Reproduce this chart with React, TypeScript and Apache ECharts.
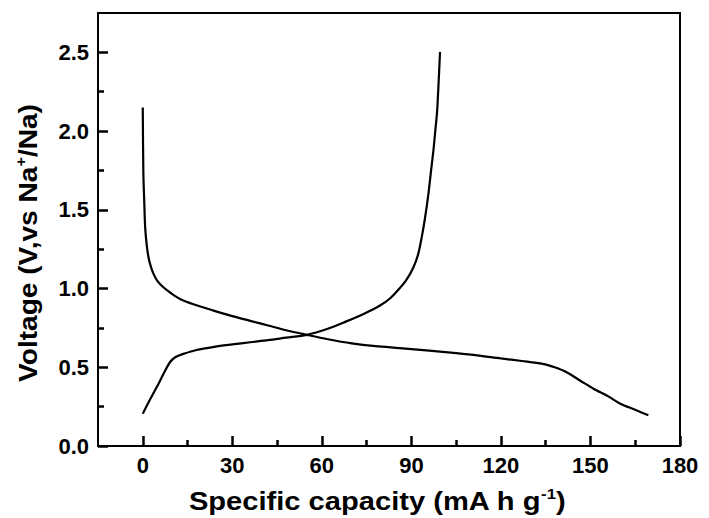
import React, { useEffect, useRef } from "react";
import * as echarts from "echarts";

const dischargeCapacity = [0, 0.2, 0.5, 0.8, 1.3, 1.9, 2.7, 3.6, 5, 6.9, 9.5, 12.5, 17, 23.7, 30, 36, 42, 48, 54.9, 62, 70, 78, 86, 96, 105, 112, 120, 127, 134, 138, 142, 147, 151, 156, 160, 165, 169.4];
const dischargeVoltage = [2.15, 1.73, 1.55, 1.39, 1.28, 1.2, 1.14, 1.093, 1.045, 1.008, 0.97, 0.934, 0.9, 0.86, 0.825, 0.795, 0.765, 0.735, 0.706, 0.678, 0.652, 0.634, 0.622, 0.606, 0.59, 0.576, 0.556, 0.54, 0.522, 0.5, 0.469, 0.41, 0.364, 0.315, 0.269, 0.23, 0.195];

const chargeCapacity = [0, 2, 4.7, 7, 9.1, 11, 13.6, 18, 24, 30, 36, 42, 48, 54.9, 62, 68, 74, 79.5, 83, 86, 88.5, 90.7, 92.3, 93.5, 94.5, 95.7, 96.6, 97.4, 98, 98.6, 99.1, 99.6];
const chargeVoltage = [0.205, 0.28, 0.374, 0.46, 0.532, 0.565, 0.585, 0.61, 0.63, 0.645, 0.659, 0.672, 0.688, 0.706, 0.745, 0.79, 0.839, 0.892, 0.94, 1.0, 1.06, 1.135, 1.22, 1.33, 1.44, 1.6, 1.75, 1.88, 2.0, 2.12, 2.3, 2.503];

const xMajorTicks = [0, 30, 60, 90, 120, 150, 180];
const xMinorTicks = [15, 45, 75, 105, 135, 165];
const yMajorTicks = [0, 0.5, 1.0, 1.5, 2.0, 2.5];
const yMinorTicks = [0.25, 0.75, 1.25, 1.75, 2.25];

const xTitle = "Specific capacity (mA h g{sup|-1})";
const yTitle = "Voltage (V,vs Na{sup|+}/Na)";

const FONT = "Liberation Sans";

export default function App() {
  const ref = useRef<HTMLDivElement>(null);
  useEffect(() => {
    if (!ref.current) return;
    const chart = echarts.init(ref.current, null, { renderer: "svg" });
    const toPairs = (xs: number[], ys: number[]) => xs.map((x, i) => [x, ys[i]]);
    const labelStyle = { color: "#000", fontFamily: FONT, fontWeight: "bold", fontSize: 22 };
    const titleRich = {
      sup: { fontSize: 15, fontFamily: FONT, fontWeight: "bold", fill: "#000", padding: [0, 0, 14, 0] },
    };
    chart.setOption({
      animation: false,
      backgroundColor: "#fff",
      grid: { left: 98, top: 13, right: 29, bottom: 72, show: true, borderColor: "#000", borderWidth: 2 },
      xAxis: [
        {
          type: "value", min: -15, max: 180,
          axisLine: { show: true, onZero: false, lineStyle: { color: "#000", width: 2 } },
          splitLine: { show: false },
          axisTick: { show: true, inside: true, length: 10, lineStyle: { color: "#000", width: 2.5 }, customValues: xMajorTicks },
          axisLabel: { show: true, customValues: xMajorTicks, margin: 8, ...labelStyle },
        },
        {
          type: "value", min: -15, max: 180, position: "bottom",
          axisLine: { show: false, onZero: false }, splitLine: { show: false },
          axisTick: { show: true, inside: true, length: 6, lineStyle: { color: "#000", width: 2.5 }, customValues: xMinorTicks },
          axisLabel: { show: false },
        },
      ],
      yAxis: [
        {
          type: "value", min: 0, max: 2.75,
          axisLine: { show: true, onZero: false, lineStyle: { color: "#000", width: 2 } },
          splitLine: { show: false },
          axisTick: { show: true, inside: true, length: 10, lineStyle: { color: "#000", width: 2.5 }, customValues: yMajorTicks },
          axisLabel: { show: true, customValues: yMajorTicks, margin: 9, ...labelStyle, formatter: (v: number) => v.toFixed(1) },
        },
        {
          type: "value", min: 0, max: 2.75, position: "left",
          axisLine: { show: false, onZero: false }, splitLine: { show: false },
          axisTick: { show: true, inside: true, length: 6, lineStyle: { color: "#000", width: 2.5 }, customValues: yMinorTicks },
          axisLabel: { show: false },
        },
      ],
      graphic: [
        {
          type: "text", x: 377, y: 501, scaleX: 1.12,
          style: {
            text: xTitle, x: 0, y: 0, align: "center", verticalAlign: "middle",
            fill: "#000", fontFamily: FONT, fontWeight: "bold", fontSize: 26, rich: titleRich,
          },
        },
        {
          type: "text", x: 28, y: 243, rotation: Math.PI / 2, scaleX: 1.08,
          style: {
            text: yTitle, x: 0, y: 0, align: "center", verticalAlign: "middle",
            fill: "#000", fontFamily: FONT, fontWeight: "bold", fontSize: 26, rich: titleRich,
          },
        },
      ],
      series: [
        {
          type: "line", xAxisIndex: 0, yAxisIndex: 0, data: toPairs(dischargeCapacity, dischargeVoltage),
          showSymbol: false, smooth: 0.3, lineStyle: { color: "#000", width: 2.2 },
        },
        {
          type: "line", xAxisIndex: 0, yAxisIndex: 0, data: toPairs(chargeCapacity, chargeVoltage),
          showSymbol: false, smooth: 0.3, lineStyle: { color: "#000", width: 2.2 },
        },
      ],
    });
    return () => chart.dispose();
  }, []);
  return <div ref={ref} style={{ position: "fixed", left: 0, top: 0, width: 709, height: 518, background: "#fff" }} />;
}
